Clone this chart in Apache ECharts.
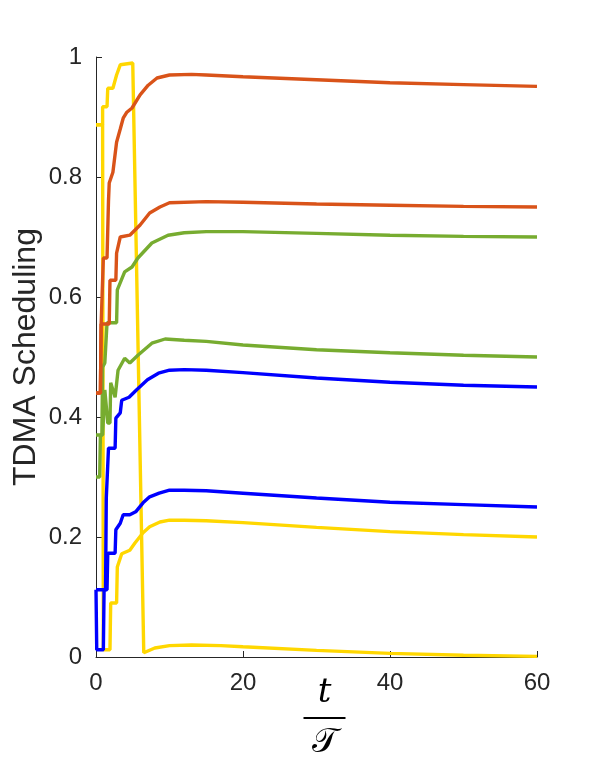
<!DOCTYPE html>
<html>
<head>
<meta charset="utf-8">
<script src="https://cdn.jsdelivr.net/npm/echarts@6/dist/echarts.min.js"></script>
<style>
  html, body { margin: 0; padding: 0; background: #fff; }
  #chart { width: 592px; height: 763px; }
</style>
</head>
<body>
<div id="chart"></div>
<script>
// [t, value] pairs
const yellowHigh = [[0,0.887],[0.9,0.887],[0.9,0.917],[1.5,0.917],[1.6,0.948],[2.3,0.948],[2.8,0.97],[3.3,0.987],[3.5,0.99],[5.0,0.99],[6.5,0.007],[8,0.015],[10,0.019],[13,0.02],[17,0.019],[20,0.017],[30,0.011],[40,0.006],[50,0.003],[60,0.001]];
const yellowLow = [[0,0.887],[0.9,0.887],[1.0,0.012],[1.9,0.012],[2.0,0.09],[2.8,0.09],[2.9,0.15],[3.5,0.172],[4.6,0.178],[5.3,0.19],[6.4,0.207],[7.3,0.217],[8.7,0.225],[10,0.228],[12,0.228],[15,0.227],[20,0.224],[30,0.216],[40,0.209],[50,0.204],[60,0.2]];
const blueHigh = [[0,0.112],[1.3,0.112],[1.4,0.265],[1.6,0.265],[1.7,0.348],[2.6,0.348],[2.7,0.398],[3.3,0.407],[3.5,0.428],[4.5,0.433],[5.5,0.445],[7,0.462],[8.5,0.473],[10,0.478],[12,0.479],[15,0.478],[20,0.474],[30,0.465],[40,0.458],[50,0.453],[60,0.45]];
const blueLow = [[0,0.112],[0.1,0.012],[1.0,0.012],[1.1,0.112],[1.5,0.112],[1.6,0.173],[2.6,0.173],[2.7,0.212],[3.3,0.223],[3.7,0.237],[4.6,0.237],[5.4,0.242],[6.4,0.257],[7.3,0.267],[8.6,0.273],[10,0.278],[12,0.278],[15,0.277],[20,0.273],[30,0.265],[40,0.258],[50,0.254],[60,0.25]];
const greenHigh = [[0,0.37],[0.8,0.37],[0.9,0.483],[1.2,0.49],[1.5,0.557],[2.8,0.557],[2.9,0.612],[3.9,0.642],[4.9,0.65],[5.7,0.665],[7.6,0.69],[9.8,0.703],[12,0.707],[15,0.709],[20,0.709],[30,0.706],[40,0.703],[50,0.701],[60,0.70]];
const greenLow = [[0,0.3],[0.5,0.3],[0.6,0.37],[0.9,0.37],[1.2,0.445],[1.6,0.39],[1.9,0.39],[2.0,0.457],[2.6,0.433],[3.0,0.478],[3.9,0.498],[4.6,0.49],[5.7,0.503],[7.6,0.523],[9.4,0.53],[12,0.528],[15,0.526],[20,0.52],[30,0.512],[40,0.507],[50,0.503],[60,0.50]];
const orangeHigh = [[0,0.44],[0.6,0.44],[0.7,0.555],[0.9,0.555],[1.0,0.665],[1.5,0.665],[1.7,0.76],[1.8,0.79],[2.3,0.808],[2.8,0.858],[3.3,0.88],[3.7,0.898],[4.2,0.908],[4.9,0.915],[6,0.937],[7.1,0.953],[8.3,0.965],[10,0.97],[13,0.971],[15,0.97],[20,0.967],[30,0.962],[40,0.957],[50,0.954],[60,0.951]];
const orangeLow = [[0,0.44],[0.6,0.44],[0.7,0.555],[1.8,0.555],[1.9,0.628],[2.7,0.628],[2.8,0.673],[3.3,0.70],[4.6,0.703],[6,0.72],[7.3,0.74],[8.7,0.75],[10,0.757],[15,0.759],[20,0.758],[30,0.755],[40,0.753],[50,0.751],[60,0.75]];

const xTicks = [0, 20, 40, 60];
const yTicks = [0, 0.2, 0.4, 0.6, 0.8, 1];

const chart = echarts.init(document.getElementById('chart'));

function line(data, color) {
  return {
    type: 'line',
    data: data,
    showSymbol: false,
    symbol: 'none',
    lineStyle: { color: color, width: 3.4 },
    itemStyle: { color: color },
    animation: false
  };
}

chart.setOption({
  backgroundColor: '#fff',
  grid: { left: 96, right: 55, top: 57, bottom: 106, containLabel: false, outerBoundsMode: 'none' },
  xAxis: {
    type: 'value',
    min: xTicks[0],
    max: xTicks[xTicks.length - 1],
    interval: 20,
    splitLine: { show: false },
    axisLine: { lineStyle: { color: '#262626', width: 1 } },
    axisTick: { inside: true, length: 6, lineStyle: { color: '#262626' } },
    axisLabel: { color: '#262626', fontSize: 24, margin: 14, fontFamily: 'Liberation Sans' },
    name: '{t|t}\n{bar| }\n{T|𝒯}',
    nameLocation: 'middle',
    nameGap: 16,
    nameMoveOverlap: false,
    nameTextStyle: {
      padding: [0, 0, 0, 16],
      rich: {
        t: { fontFamily: 'DejaVu Serif', fontStyle: 'italic', fontSize: 34, color: '#000', align: 'center', lineHeight: 40 },
        bar: { width: 42, height: 2, backgroundColor: '#000', lineHeight: 10, align: 'center' },
        T: { fontFamily: 'DejaVu Serif', fontSize: 34, color: '#000', align: 'center', lineHeight: 40 }
      }
    }
  },
  yAxis: {
    type: 'value',
    min: yTicks[0],
    max: yTicks[yTicks.length - 1],
    interval: 0.2,
    splitLine: { show: false },
    axisLine: { show: true, lineStyle: { color: '#262626', width: 1 } },
    axisTick: { show: true, inside: true, length: 6, lineStyle: { color: '#262626' } },
    axisLabel: { color: '#262626', fontSize: 24, margin: 14, fontFamily: 'Liberation Sans' },
    name: 'TDMA Scheduling',
    nameLocation: 'middle',
    nameGap: 54,
    nameMoveOverlap: false,
    nameTextStyle: { color: '#262626', fontSize: 32, fontFamily: 'Liberation Sans' }
  },
  series: [
    line(yellowLow, '#FFD700'),
    line(yellowHigh, '#FFD700'),
    line(blueLow, '#0000FF'),
    line(blueHigh, '#0000FF'),
    line(greenLow, '#77AC30'),
    line(greenHigh, '#77AC30'),
    line(orangeLow, '#D95319'),
    line(orangeHigh, '#D95319')
  ]
});
</script>
</body>
</html>
